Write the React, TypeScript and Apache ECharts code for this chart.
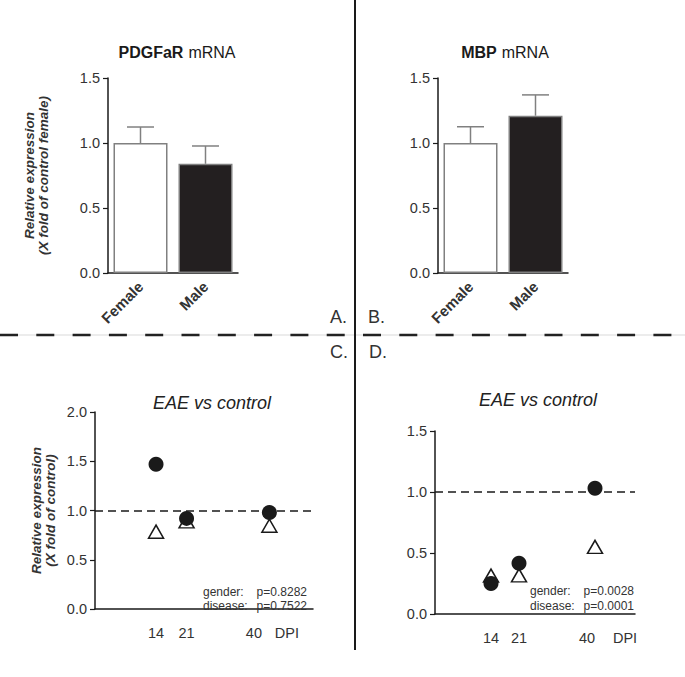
import React, { useEffect, useRef } from 'react';
import * as echarts from 'echarts';

const FONT = '"Liberation Sans", Arial, Helvetica, sans-serif';
const TEXT = '#333333';
const AXIS = '#1a1a1a';
const BAR_EDGE = '#808080';

// ---- data ----
const barCategories = ['Female', 'Male'];
const pdgfMean = [1.0, 0.84];
const pdgfErr = [0.123, 0.137];
const mbpMean = [1.0, 1.21];
const mbpErr = [0.125, 0.16];
const barFill = ['#ffffff', '#231f20'];

const dpiDays = [14, 21, 40];
const pdgfEaeCircles = [1.47, 0.92, 0.98];
const pdgfEaeTriangles = [0.785, 0.89, 0.845];
const mbpEaeCircles = [0.25, 0.415, 1.03];
const mbpEaeTriangles = [0.315, 0.317, 0.55];

const pdgfDpiLabelValues = [14, 21, 40, 44];
const mbpDpiLabelValues = [14, 21, 40, 47.5];

const pdgfStats = [['gender:', 'p=0.8282'], ['disease:', 'p=0.7522']];
const mbpStats = [['gender:', 'p=0.0028'], ['disease:', 'p=0.0001']];

const fmt1 = (v: number) => v.toFixed(1);

function yAxisBase(max: number, gridIndex: number, name?: string, nameGap?: number) {
  return {
    type: 'value',
    gridIndex,
    min: 0,
    max,
    interval: 0.5,
    name: name || '',
    nameLocation: 'middle',
    nameRotate: 90,
    nameGap: nameGap || 40,
    nameTextStyle: {
      fontFamily: FONT,
      fontSize: 13.5,
      fontWeight: 'bold',
      fontStyle: 'italic',
      lineHeight: 14.5,
      color: TEXT,
    },
    axisLine: { show: true, lineStyle: { color: AXIS, width: 1.5 } },
    axisTick: { show: true, length: 5, lineStyle: { color: AXIS, width: 1.2 } },
    splitLine: { show: false },
    axisLabel: { fontFamily: FONT, fontSize: 14.5, color: TEXT, margin: 8, formatter: fmt1 },
  };
}

function barXAxis(gridIndex: number) {
  return {
    type: 'category',
    gridIndex,
    data: barCategories,
    axisLine: { show: true, lineStyle: { color: AXIS, width: 1.5 } },
    axisTick: { show: false },
    axisLabel: {
      interval: 0,
      rotate: 45,
      margin: 11,
      fontFamily: FONT,
      fontSize: 15,
      fontWeight: 'bold',
      color: TEXT,
    },
  };
}

function dpiXAxis(gridIndex: number, labelValues: number[], shift: number) {
  return {
    type: 'value',
    gridIndex,
    min: 0,
    max: 50,
    axisLine: { show: true, lineStyle: { color: AXIS, width: 1.5 } },
    axisTick: { show: false },
    splitLine: { show: false },
    axisLabel: {
      customValues: labelValues,
      margin: 16,
      fontFamily: FONT,
      fontSize: 14.5,
      color: TEXT,
      formatter: (v: number) => {
        if (v === 40) return '{s|40}';
        if (v === labelValues[3]) return 'DPI';
        return String(v);
      },
      rich: {
        s: { fontFamily: FONT, fontSize: 14.5, color: TEXT, padding: [0, shift, 0, 0] },
      },
    },
  };
}

function barSeries(idx: number, means: number[]) {
  return {
    type: 'bar',
    xAxisIndex: idx,
    yAxisIndex: idx,
    barWidth: 54,
    silent: true,
    data: means.map((m, i) => ({
      value: m,
      itemStyle: { color: barFill[i], borderColor: BAR_EDGE, borderWidth: 1.5 },
    })),
    z: 2,
  };
}

function errSeries(idx: number, means: number[], errs: number[]) {
  return {
    type: 'custom',
    xAxisIndex: idx,
    yAxisIndex: idx,
    silent: true,
    encode: { x: 0, y: [1, 2] },
    data: means.map((m, i) => [i, m, m + errs[i]]),
    renderItem: (_p: any, api: any) => {
      const base = api.coord([api.value(0), api.value(1)]);
      const top = api.coord([api.value(0), api.value(2)]);
      const half = 13.5;
      const st = { stroke: BAR_EDGE, lineWidth: 1.5 };
      return {
        type: 'group',
        children: [
          { type: 'line', shape: { x1: base[0], y1: base[1], x2: top[0], y2: top[1] }, style: st },
          { type: 'line', shape: { x1: top[0] - half, y1: top[1], x2: top[0] + half, y2: top[1] }, style: st },
        ],
      };
    },
    z: 3,
  };
}

function triSeries(idx: number, vals: number[]) {
  return {
    type: 'scatter',
    xAxisIndex: idx,
    yAxisIndex: idx,
    silent: true,
    symbol: 'triangle',
    symbolSize: [15, 13],
    itemStyle: { color: '#ffffff', borderColor: AXIS, borderWidth: 1.5, opacity: 1 },
    data: dpiDays.map((d, i) => [d, vals[i]]),
    markLine: {
      silent: true,
      symbol: ['none', 'none'],
      label: { show: false },
      lineStyle: { type: [8, 5], color: AXIS, width: 1.5 },
      data: [{ yAxis: 1 }],
    },
    z: 2,
  };
}

function circSeries(idx: number, vals: number[]) {
  return {
    type: 'scatter',
    xAxisIndex: idx,
    yAxisIndex: idx,
    silent: true,
    symbol: 'circle',
    symbolSize: 15,
    itemStyle: { color: '#1a1a1a', opacity: 1 },
    data: dpiDays.map((d, i) => [d, vals[i]]),
    z: 3,
  };
}

function statTexts(stats: string[][], left: number, right: number, ys: number[]) {
  const out: any[] = [];
  stats.forEach((s, i) => {
    const common = { fontFamily: FONT, fontSize: 12, fill: TEXT, verticalAlign: 'middle' };
    out.push({ type: 'text', x: left, y: ys[i], style: { ...common, text: s[0], align: 'left' }, z: 10 });
    out.push({ type: 'text', x: right, y: ys[i], style: { ...common, text: s[1], align: 'right' }, z: 10 });
  });
  return out;
}

function panelLetter(text: string, x: number, y: number) {
  return {
    type: 'text',
    x,
    y,
    style: { text, fontFamily: FONT, fontSize: 18, fill: TEXT, align: 'left', verticalAlign: 'middle' },
  };
}

function titleRich(bold: string, rest: string, left: number, top: number) {
  return {
    text: `{b|${bold}} {n|${rest}}`,
    left,
    top,
    textAlign: 'center',
    textStyle: {
      rich: {
        b: { fontFamily: FONT, fontSize: 16, fontWeight: 'bold', color: '#1a1a1a' },
        n: { fontFamily: FONT, fontSize: 16, fontWeight: 'normal', color: '#1a1a1a' },
      },
    },
  };
}

function titleItalic(text: string, left: number, top: number) {
  return {
    text,
    left,
    top,
    textAlign: 'center',
    textStyle: { fontFamily: FONT, fontSize: 18, fontStyle: 'italic', fontWeight: 'normal', color: '#222' },
  };
}

export default function App() {
  const ref = useRef<HTMLDivElement>(null);
  useEffect(() => {
    if (!ref.current) return;
    const chart = echarts.init(ref.current, undefined, { renderer: 'svg' });
    chart.setOption({
      animation: false,
      backgroundColor: '#ffffff',
      title: [
        titleRich('PDGFaR', 'mRNA', 172, 38),
        titleRich('MBP', 'mRNA', 500, 38),
        titleItalic('EAE vs control', 207, 389),
        titleItalic('EAE vs control', 533, 386),
      ],
      grid: [
        { left: 108, top: 78, width: 130, height: 195, outerBoundsMode: 'none' },
        { left: 438, top: 78, width: 130, height: 195, outerBoundsMode: 'none' },
        { left: 95, top: 412, width: 218, height: 197, outerBoundsMode: 'none' },
        { left: 435, top: 431, width: 200, height: 183, outerBoundsMode: 'none' },
      ],
      xAxis: [
        barXAxis(0),
        barXAxis(1),
        dpiXAxis(2, pdgfDpiLabelValues, 31),
        dpiXAxis(3, mbpDpiLabelValues, 16),
      ],
      yAxis: [
        yAxisBase(1.5, 0, 'Relative expression\n(X fold of control female)', 57),
        yAxisBase(1.5, 1),
        yAxisBase(2.0, 2, 'Relative expression\n(X fold of control)', 37),
        yAxisBase(1.5, 3),
      ],
      series: [
        barSeries(0, pdgfMean),
        errSeries(0, pdgfMean, pdgfErr),
        barSeries(1, mbpMean),
        errSeries(1, mbpMean, mbpErr),
        triSeries(2, pdgfEaeTriangles),
        circSeries(2, pdgfEaeCircles),
        triSeries(3, mbpEaeTriangles),
        circSeries(3, mbpEaeCircles),
      ],
      graphic: [
        { type: 'line', shape: { x1: 0, y1: 335, x2: 685, y2: 335 }, style: { stroke: '#d9d9d9', lineWidth: 1 } },
        { type: 'line', shape: { x1: 0, y1: 335, x2: 685, y2: 335 }, style: { stroke: '#222222', lineWidth: 2.5, lineDash: [18, 18.3] } },
        { type: 'line', shape: { x1: 355, y1: 0, x2: 355, y2: 650 }, style: { stroke: '#1a1a1a', lineWidth: 2 } },
        panelLetter('A.', 330, 317),
        panelLetter('B.', 368, 317),
        panelLetter('C.', 330, 352),
        panelLetter('D.', 369, 352),
        ...statTexts(pdgfStats, 203, 307, [592, 606]),
        ...statTexts(mbpStats, 530, 634, [591, 606]),
      ],
    });
    return () => chart.dispose();
  }, []);
  return <div ref={ref} style={{ position: 'fixed', left: 0, top: 0, width: 685, height: 677 }} />;
}
